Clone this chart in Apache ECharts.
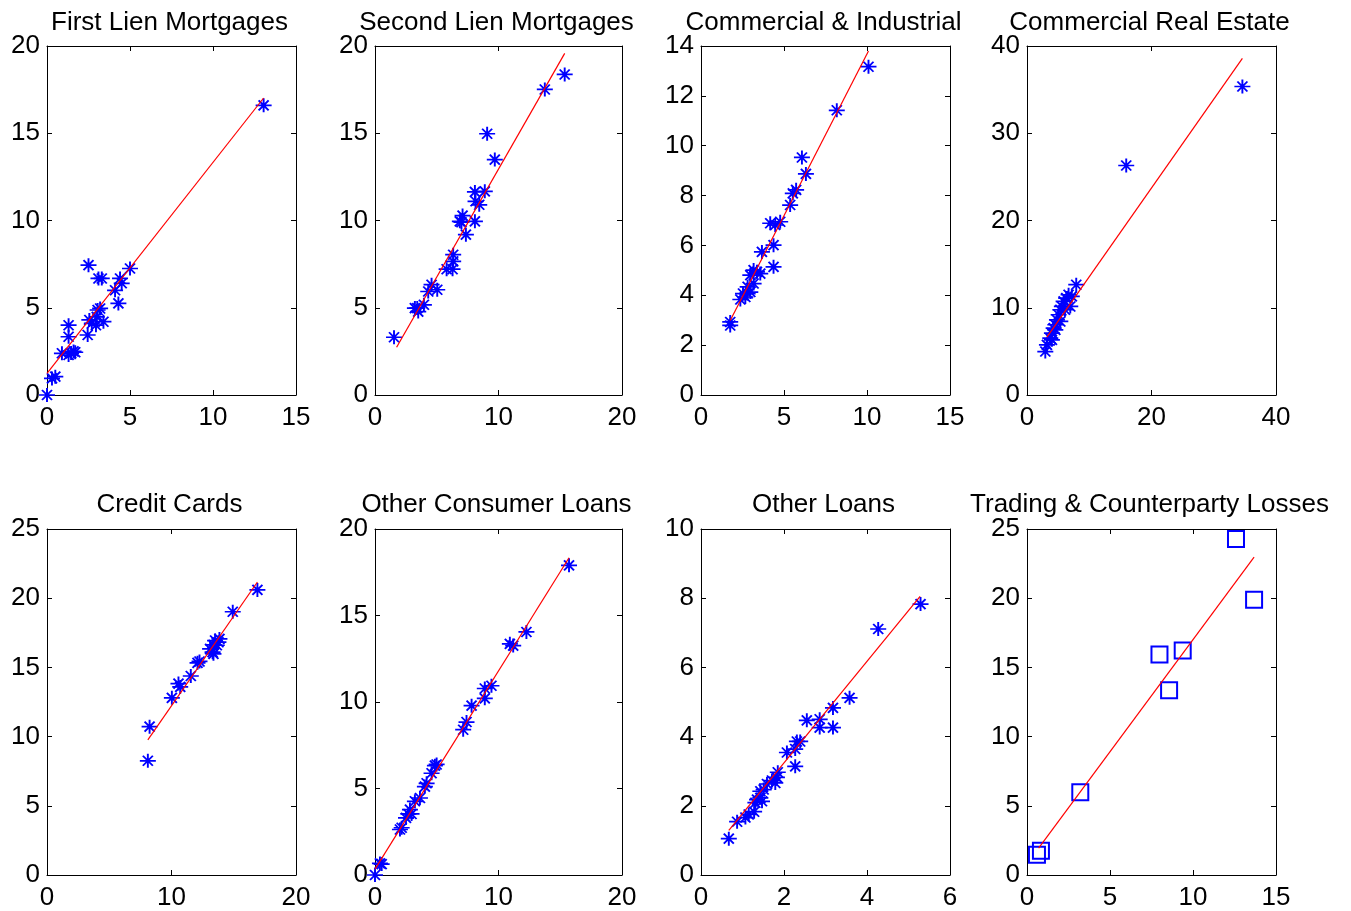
<!DOCTYPE html>
<html>
<head>
<meta charset="utf-8">
<title>Loss rates by portfolio</title>
<script src="https://cdn.jsdelivr.net/npm/echarts@6/dist/echarts.min.js"></script>
<style>
  html, body { margin: 0; padding: 0; background: #fff; }
  #chart { width: 1351px; height: 911px; }
</style>
</head>
<body>
<div id="chart"></div>
<script>
// Panel titles
const panelTitles = [
  'First Lien Mortgages', 'Second Lien Mortgages', 'Commercial & Industrial', 'Commercial Real Estate',
  'Credit Cards', 'Other Consumer Loans', 'Other Loans', 'Trading & Counterparty Losses'
];

// Observed points per portfolio
const firstLienX = [0, 0.3, 0.5, 0.9, 1.3, 1.3, 1.3, 1.45, 1.6, 1.7, 2.5, 2.45, 2.55, 2.7, 2.95, 3.0, 3.05, 3.2, 3.4, 3.1, 3.3, 4.1, 4.3, 4.4, 4.5, 5.0, 13.05];
const firstLienY = [0, 0.95, 1.05, 2.39, 4.0, 3.34, 2.29, 2.4, 2.5, 2.45, 7.44, 3.44, 4.3, 4.1, 4.0, 4.48, 4.87, 4.96, 4.2, 6.68, 6.68, 6.0, 5.25, 6.68, 6.4, 7.25, 16.6];
const firstLienFitX = [0, 13.05];
const firstLienFitY = [1.24, 17.02];

const secondLienX = [1.54, 3.23, 3.42, 3.5, 3.96, 4.31, 4.58, 5.04, 5.8, 6.28, 6.33, 6.33, 6.87, 7.09, 7.0, 7.36, 8.09, 8.09, 8.14, 8.44, 8.89, 9.08, 9.7, 13.75, 15.36];
const secondLienY = [3.31, 4.98, 4.98, 4.78, 5.17, 5.93, 6.32, 6.03, 7.21, 7.21, 7.66, 8.04, 9.95, 10.28, 9.9, 9.19, 9.95, 11.64, 11.1, 10.9, 11.67, 14.97, 13.49, 17.51, 18.37];
const secondLienFitX = [1.75, 15.36];
const secondLienFitY = [2.74, 19.58];

const ciX = [1.76, 1.76, 2.37, 2.53, 2.67, 2.81, 2.97, 2.81, 3.17, 2.97, 3.17, 3.37, 3.57, 4.37, 3.67, 4.37, 4.17, 4.47, 4.77, 5.37, 5.53, 5.73, 6.08, 6.32, 8.18, 10.09];
const ciY = [2.93, 2.79, 3.83, 4.07, 3.93, 4.07, 4.13, 4.34, 4.47, 4.81, 5.01, 4.94, 4.87, 5.14, 5.74, 6.01, 6.89, 6.82, 6.95, 7.62, 8.09, 8.23, 9.53, 8.87, 11.42, 13.17];
const ciFitX = [1.76, 10.09];
const ciFitY = [2.99, 13.8];

const creX = [2.94, 3.2, 3.74, 4.0, 4.28, 4.55, 4.81, 5.08, 5.35, 5.6, 5.88, 6.3, 6.68, 7.2, 6.95, 6.1, 5.35, 4.55, 4.0, 7.91, 15.94, 34.6];
const creY = [4.98, 5.75, 6.51, 7.09, 7.66, 8.05, 8.62, 9.2, 9.77, 10.15, 10.73, 11.11, 11.49, 11.3, 10.15, 9.77, 8.43, 7.47, 6.32, 12.64, 26.3, 35.36];
const creFitX = [3.2, 34.6];
const creFitY = [6.63, 38.58];

const cardsX = [8.1, 8.24, 10.03, 10.7, 10.56, 11.55, 12.09, 12.25, 13.1, 13.3, 13.37, 13.5, 13.64, 13.77, 13.85, 13.37, 14.92, 16.9];
const cardsY = [8.25, 10.72, 12.8, 13.59, 13.83, 14.38, 15.33, 15.43, 16.34, 16.1, 16.63, 16.94, 16.6, 16.82, 17.06, 15.98, 19.02, 20.6];
const cardsFitX = [8.1, 16.9];
const cardsFitY = [9.76, 21.17];

const consumerX = [0, 0.54, 0.4, 2.02, 2.16, 2.51, 2.7, 2.96, 2.83, 3.23, 3.64, 4.04, 4.18, 4.58, 4.85, 4.99, 7.14, 7.41, 7.82, 8.89, 8.89, 9.43, 10.92, 11.19, 12.26, 15.71];
const consumerY = [0, 0.63, 0.67, 2.63, 2.73, 3.3, 3.53, 3.53, 3.78, 4.26, 4.45, 5.11, 5.3, 5.88, 6.32, 6.39, 8.4, 8.84, 9.79, 10.21, 10.78, 10.94, 13.36, 13.26, 14.05, 17.9];
const consumerFitX = [0, 15.71];
const consumerFitY = [0.34, 18.34];

const otherX = [0.67, 0.87, 1.07, 1.15, 1.28, 1.31, 1.35, 1.43, 1.47, 1.43, 1.51, 1.59, 1.71, 1.79, 1.83, 1.85, 2.07, 2.27, 2.27, 2.31, 2.39, 2.55, 2.86, 2.86, 3.18, 3.18, 3.58, 4.27, 5.29];
const otherY = [1.05, 1.54, 1.66, 1.75, 1.83, 2.09, 2.18, 2.23, 2.13, 2.42, 2.47, 2.63, 2.73, 2.66, 2.82, 2.97, 3.54, 3.64, 3.14, 3.86, 3.86, 4.47, 4.5, 4.26, 4.83, 4.26, 5.12, 7.11, 7.83];
const otherFitX = [0.67, 5.28];
const otherFitY = [1.29, 8.05];

const tradingX = [0.6, 0.84, 3.21, 7.98, 9.38, 8.56, 12.59, 13.68];
const tradingY = [1.46, 1.75, 5.98, 15.93, 16.22, 13.35, 24.28, 19.88];
const tradingFitX = [0.7, 13.68];
const tradingFitY = [1.94, 22.97];

// Axis ranges and tick steps per panel
const xMaxes = [15, 20, 15, 40, 20, 20, 6, 15];
const xSteps = [5, 10, 5, 20, 10, 10, 2, 5];
const yMaxes = [20, 20, 14, 40, 25, 20, 10, 25];
const ySteps = [5, 5, 2, 10, 5, 5, 2, 5];

const pointsX = [firstLienX, secondLienX, ciX, creX, cardsX, consumerX, otherX, tradingX];
const pointsY = [firstLienY, secondLienY, ciY, creY, cardsY, consumerY, otherY, tradingY];
const fitsX = [firstLienFitX, secondLienFitX, ciFitX, creFitX, cardsFitX, consumerFitX, otherFitX, tradingFitX];
const fitsY = [firstLienFitY, secondLienFitY, ciFitY, creFitY, cardsFitY, consumerFitY, otherFitY, tradingFitY];

// Grid geometry (4 columns x 2 rows)
const colLeft = [47, 375, 701, 1027];
const colWidth = [249, 247, 249, 249];
const rowTop = [46, 529];
const rowHeight = [349, 348];

const FONT = '"Liberation Sans", Arial, Helvetica, sans-serif';
const BLUE = '#0000ff';
const RED = '#ff0000';
const ASTERISK = 'path://M0,7L16,7M8,0L8,14M3,2L13,12M13,2L3,12';

const grids = [], xAxes = [], yAxes = [], series = [], titles = [];

for (let i = 0; i < 8; i++) {
  const c = i % 4, r = Math.floor(i / 4);
  grids.push({ left: colLeft[c], top: rowTop[r], width: colWidth[c], height: rowHeight[r], containLabel: false });
  titles.push({
    text: panelTitles[i],
    left: colLeft[c] + colWidth[c] / 2 - 7,
    top: r === 0 ? 5 : 487,
    textAlign: 'center',
    textStyle: { fontFamily: FONT, fontSize: 26, fontWeight: 'normal', color: '#000' }
  });
  const axisBase = (max, step) => ({
    type: 'value', min: 0, max: max, interval: step, gridIndex: i,
    axisLine: { show: true, onZero: false, lineStyle: { color: '#000', width: 1 } },
    axisTick: { show: true, inside: true, length: 5, lineStyle: { color: '#000', width: 1 } },
    splitLine: { show: false }
  });
  const labelStyle = (m) => ({ show: true, color: '#000', fontFamily: FONT, fontSize: 26, margin: m });
  const xi = xAxes.length, yi = yAxes.length;
  xAxes.push(Object.assign(axisBase(xMaxes[i], xSteps[i]), { position: 'bottom', axisLabel: labelStyle(10) }));
  xAxes.push(Object.assign(axisBase(xMaxes[i], xSteps[i]), { position: 'top', axisLabel: { show: false } }));
  yAxes.push(Object.assign(axisBase(yMaxes[i], ySteps[i]), { position: 'left', axisLabel: labelStyle(7) }));
  yAxes.push(Object.assign(axisBase(yMaxes[i], ySteps[i]), { position: 'right', axisLabel: { show: false } }));

  const isTrading = i === 7;
  series.push({
    type: 'scatter', xAxisIndex: xi, yAxisIndex: yi,
    data: pointsX[i].map((x, k) => [x, pointsY[i][k]]),
    symbol: isTrading ? 'rect' : ASTERISK,
    symbolSize: isTrading ? 16 : [16, 14],
    itemStyle: { color: 'transparent', borderColor: BLUE, borderWidth: isTrading ? 2 : 1.8, opacity: 1 },
    z: 2
  });
  series.push({
    type: 'line', xAxisIndex: xi, yAxisIndex: yi,
    data: fitsX[i].map((x, k) => [x, fitsY[i][k]]),
    symbol: 'none',
    lineStyle: { color: RED, width: 1.2 },
    z: 3
  });
}

const chart = echarts.init(document.getElementById('chart'), null, { renderer: 'canvas' });
chart.setOption({
  animation: false,
  backgroundColor: '#fff',
  title: titles,
  grid: grids,
  xAxis: xAxes,
  yAxis: yAxes,
  series: series
});
</script>
</body>
</html>
